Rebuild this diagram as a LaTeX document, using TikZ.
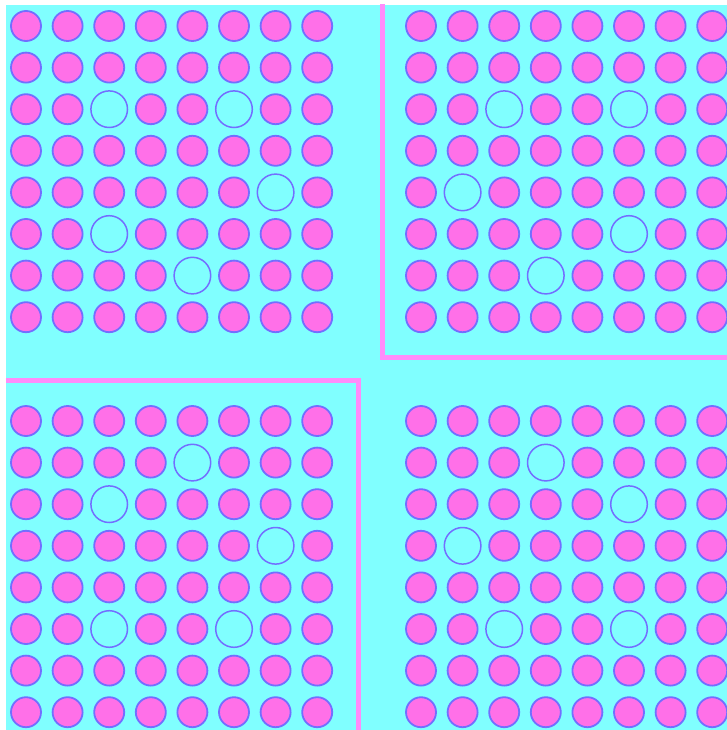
\documentclass[tikz,border=0pt]{standalone}
\definecolor{bgcyan}{RGB}{128,255,255}
\definecolor{dotfill}{RGB}{255,112,232}
\definecolor{dotline}{RGB}{115,110,255}
\definecolor{frame}{RGB}{255,140,250}
\tikzset{
  dot/.style={fill=dotfill,draw=dotline,line width=1.8pt},
  hole/.style={fill=bgcyan,draw=dotline,line width=1.5pt},
  border/.style={draw=frame,line width=5pt}
}
\begin{document}
\begin{tikzpicture}[x=1pt,y=-1pt]
\useasboundingbox (0,0) rectangle (727,730);
\fill[white] (0,0) rectangle (727,730);
\fill[bgcyan] (6,5) rectangle (727,730);
\begin{scope}
\clip (6,5) rectangle (727,730);
% all dots
\foreach \ox/\oy in {26/26, 421/26, 26/421, 421/421}{
  \foreach \i in {0,...,7}{
    \foreach \j in {0,...,7}{
      \draw[dot] ({\ox+41.6*\i},{\oy+41.6*\j}) circle (15);
    }
  }
}
% empty rings
\foreach \ox/\oy/\i/\j in {
  26/26/2/2, 26/26/5/2, 26/26/6/4, 26/26/2/5, 26/26/4/6,
  421/26/2/2, 421/26/5/2, 421/26/1/4, 421/26/5/5, 421/26/3/6,
  26/421/4/1, 26/421/2/2, 26/421/6/3, 26/421/2/5, 26/421/5/5,
  421/421/3/1, 421/421/5/2, 421/421/1/3, 421/421/2/5, 421/421/5/5}{
  \fill[bgcyan] ({\ox+41.6*\i},{\oy+41.6*\j}) circle (17.5);
  \draw[hole] ({\ox+41.6*\i},{\oy+41.6*\j}) circle (18.3);
}
% frames
\draw[border] (382.5,0) -- (382.5,357) -- (730,357);
\draw[border] (0,380) -- (358,380) -- (358,735);
\end{scope}
\end{tikzpicture}
\end{document}
